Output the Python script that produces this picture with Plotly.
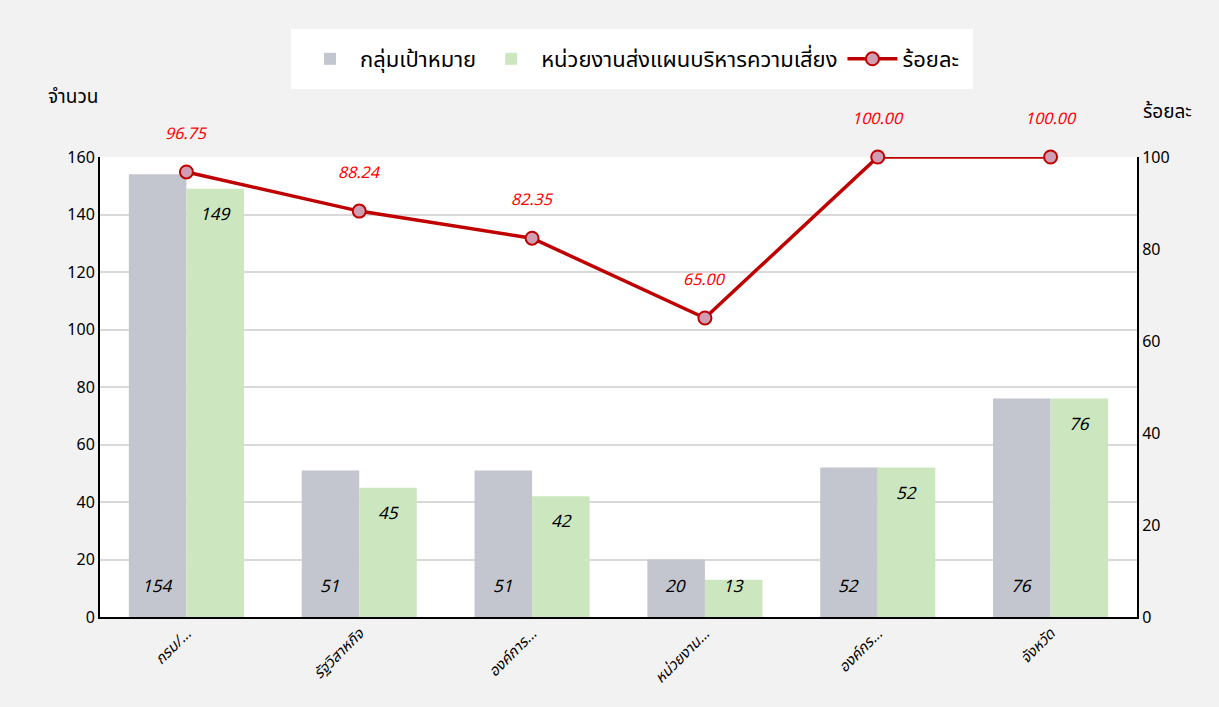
import plotly.graph_objects as go

categories = ["กรม/...", "รัฐวิสาหกิจ", "องค์การ...", "หน่วยงาน...", "องค์กร...", "จังหวัด"]
target_group = [154, 51, 51, 20, 52, 76]
submitted = [149, 45, 42, 13, 52, 76]
percent = [96.75, 88.24, 82.35, 65.00, 100.00, 100.00]

FONT = "Tahoma, 'Noto Sans Thai', 'Noto Sans', 'DejaVu Sans', sans-serif"
LBL = dict(family=FONT, size=17, color="#000000", style="italic")
PX_PER_UNIT = 460 / 160  # plot height / left axis range

fig = go.Figure()
fig.add_trace(go.Bar(
    x=categories, y=target_group, name="กลุ่มเป้าหมาย",
    marker=dict(color="#c3c6ce", line=dict(width=0)), yaxis="y",
))
fig.add_trace(go.Bar(
    x=categories, y=submitted, name="หน่วยงานส่งแผนบริหารความเสี่ยง",
    marker=dict(color="#cce7bf", line=dict(width=0)), yaxis="y",
))
fig.add_trace(go.Scatter(
    x=categories, y=percent, name="ร้อยละ", yaxis="y2", mode="lines+markers",
    line=dict(color="#c00000", width=3.5), cliponaxis=False,
    marker=dict(size=13, color="#cf9eb2", line=dict(color="#c00000", width=2)),
))

for c, v in zip(categories, target_group):
    fig.add_annotation(x=c, y=0, yref="y", text=str(v), showarrow=False,
                       xshift=-29, yshift=30, font=LBL)
for c, v in zip(categories, submitted):
    shift = -min(26, v * PX_PER_UNIT - 30)
    fig.add_annotation(x=c, y=v, yref="y", text=str(v), showarrow=False,
                       xshift=29, yshift=shift, font=LBL)
for c, p in zip(categories, percent):
    fig.add_annotation(x=c, y=p, yref="y2", text=f"{p:.2f}", showarrow=False,
                       yshift=38, font=dict(family=FONT, size=16, color="#ff0000", style="italic"))

fig.add_annotation(xref="paper", yref="paper", x=-0.052, y=1.13, xanchor="left", yanchor="middle",
                   text="จำนวน", showarrow=False, font=dict(family=FONT, size=19, color="#000000"))
fig.add_annotation(xref="paper", yref="paper", x=1.004, y=1.096, xanchor="left", yanchor="middle",
                   text="ร้อยละ", showarrow=False, font=dict(family=FONT, size=19, color="#000000"))

fig.update_layout(
    width=1219, height=707,
    paper_bgcolor="#f2f2f2", plot_bgcolor="#ffffff",
    margin=dict(l=100, r=82, t=157, b=90, autoexpand=False),
    barmode="group", bargap=0.334, bargroupgap=0,
    font=dict(family=FONT, size=15, color="#404040"),
    showlegend=True,
    legend=dict(orientation="h", x=0.513, xanchor="center", y=1.213, yanchor="middle",
                bgcolor="#ffffff", bordercolor="#ffffff", borderwidth=9,
                font=dict(family=FONT, size=22, color="#000000"),
                itemwidth=50, traceorder="normal"),
    xaxis=dict(tickangle=-45, showline=True, linecolor="#000000", linewidth=2,
               tickfont=dict(family=FONT, size=15, color="#000000", style="italic"),
               showgrid=False, ticks=""),
    yaxis=dict(range=[0, 160], dtick=20, showgrid=True, gridcolor="#d9d9d9", gridwidth=2,
               showline=True, linecolor="#000000", linewidth=2, ticks="",
               tickfont=dict(family=FONT, size=16, color="#000000"), zeroline=False),
    yaxis2=dict(range=[0, 100], dtick=20, overlaying="y", side="right", showgrid=False,
                showline=True, linecolor="#000000", linewidth=2, ticks="",
                tickfont=dict(family=FONT, size=16, color="#000000"), zeroline=False),
)

fig.write_html("out.html", config={"displayModeBar": False},
               post_script="document.body.style.margin='0px';document.body.style.padding='0px';document.body.style.overflow='hidden';")
